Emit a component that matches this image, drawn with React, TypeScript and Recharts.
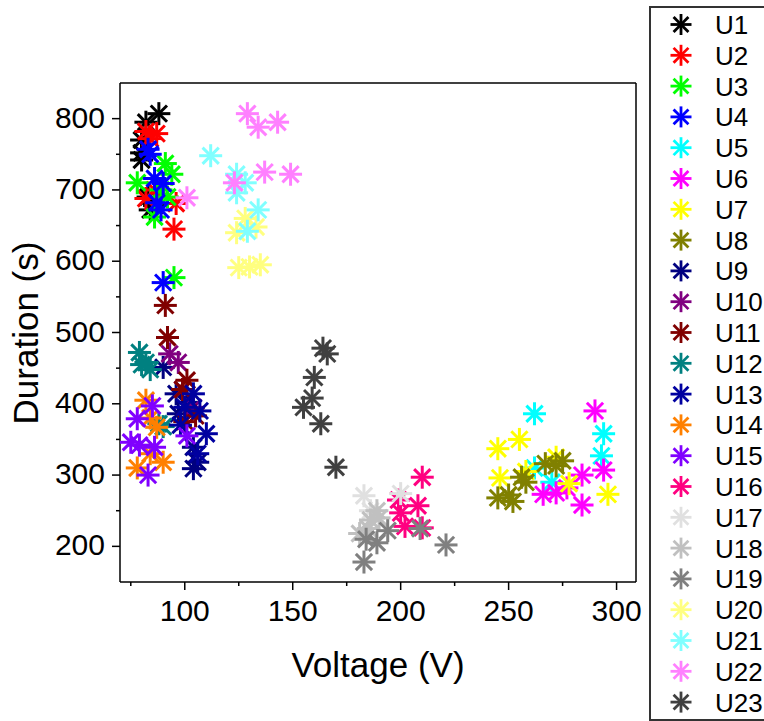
import { ScatterChart, Scatter, XAxis, YAxis, ReferenceLine } from 'recharts'

// [voltage, duration] pairs
const U1: [number, number][] = [[88, 807], [82, 795], [80, 770], [80, 752], [80, 742], [83, 690], [84, 672], [86, 678]]
const U2: [number, number][] = [[82, 782], [87, 779], [84, 772], [82, 688], [96, 681], [95, 645], [86, 700]]
const U3: [number, number][] = [[91, 737], [78, 710], [94, 722], [89, 700], [86, 662], [95, 577], [92, 690]]
const U4: [number, number][] = [[83, 757], [84, 750], [86, 716], [90, 709], [87, 682], [89, 672], [90, 570]]
const U5: [number, number][] = [[262, 386], [294, 358], [293, 327], [262, 310], [270, 290]]
const U6: [number, number][] = [[290, 390], [266, 273], [272, 275], [284, 258], [284, 300], [294, 307], [277, 282]]
const U7: [number, number][] = [[245, 337], [255, 350], [246, 296], [272, 325], [278, 288], [296, 273], [258, 305]]
const U8: [number, number][] = [[245, 268], [250, 272], [252, 263], [256, 297], [258, 290], [267, 316], [275, 320], [272, 313]]
const U9: [number, number][] = [[90, 451], [96, 414], [101, 402], [97, 386], [104, 339], [104, 309], [106, 318]]
const U10: [number, number][] = [[97, 458], [93, 470], [99, 420], [104, 395]]
const U11: [number, number][] = [[91, 538], [92, 493], [101, 433], [99, 420], [105, 383], [100, 375]]
const U12: [number, number][] = [[79, 472], [82, 458], [84, 448], [80, 455], [90, 368], [88, 372]]
const U13: [number, number][] = [[104, 414], [107, 390], [110, 358], [100, 395], [98, 370], [106, 330]]
const U14: [number, number][] = [[82, 405], [87, 367], [84, 380], [78, 310], [90, 318], [84, 330]]
const U15: [number, number][] = [[85, 397], [78, 379], [75, 346], [79, 342], [86, 339], [83, 300], [101, 355]]
const U16: [number, number][] = [[210, 297], [208, 257], [200, 247], [199, 265], [210, 226], [202, 228]]
const U17: [number, number][] = [[183, 271], [200, 274], [186, 250]]
const U18: [number, number][] = [[189, 250], [186, 237], [181, 218], [190, 240], [185, 225]]
const U19: [number, number][] = [[194, 222], [189, 205], [183, 178], [209, 225], [221, 202], [184, 210]]
const U20: [number, number][] = [[124, 640], [133, 648], [125, 591], [135, 595], [130, 592], [128, 660]]
const U21: [number, number][] = [[112, 748], [124, 722], [124, 696], [134, 672], [129, 642], [128, 710]]
const U22: [number, number][] = [[129, 807], [134, 788], [143, 795], [137, 725], [149, 722], [123, 710], [101, 689]]
const U23: [number, number][] = [[164, 478], [166, 470], [160, 437], [159, 408], [155, 395], [163, 372], [170, 311]]

const NAMES = ['U1', 'U2', 'U3', 'U4', 'U5', 'U6', 'U7', 'U8', 'U9', 'U10', 'U11', 'U12', 'U13', 'U14', 'U15', 'U16', 'U17', 'U18', 'U19', 'U20', 'U21', 'U22', 'U23']
const POINTS = [U1, U2, U3, U4, U5, U6, U7, U8, U9, U10, U11, U12, U13, U14, U15, U16, U17, U18, U19, U20, U21, U22, U23]
const COLORS = [
  '#000000', '#FF0000', '#00FF00', '#0000FF', '#00FFFF', '#FF00FF', '#FFFF00', '#808000',
  '#000080', '#800080', '#800000', '#008080', '#0000A0', '#FF8000', '#8000FF', '#FF0080',
  '#E0E0E0', '#C0C0C0', '#808080', '#FFFF80', '#80FFFF', '#FF80FF', '#404040',
]

const X_TICKS = [75, 100, 125, 150, 175, 200, 225, 250, 275, 300]
const Y_TICKS = [200, 250, 300, 350, 400, 450, 500, 550, 600, 650, 700, 750, 800]

const FONT = '"Liberation Sans", Arial, sans-serif'

function Star({ cx, cy, color, r = 11.5, w = 3 }: { cx: number; cy: number; color: string; r?: number; w?: number }) {
  const d = r * Math.SQRT1_2
  return (
    <g stroke={color} strokeWidth={w}>
      <line x1={cx - r} y1={cy} x2={cx + r} y2={cy} />
      <line x1={cx} y1={cy - r} x2={cx} y2={cy + r} />
      <line x1={cx - d} y1={cy - d} x2={cx + d} y2={cy + d} />
      <line x1={cx - d} y1={cy + d} x2={cx + d} y2={cy - d} />
    </g>
  )
}

function XTick({ x, y, payload }: any) {
  const major = payload.value % 50 === 0
  return (
    <g>
      <line x1={x} y1={y} x2={x} y2={y + (major ? 8 : 4)} stroke="#000" strokeWidth={1.5} />
      {major && (
        <text x={x} y={y + 38.5} textAnchor="middle" fontSize={30} fontFamily={FONT} fill="#000">
          {payload.value}
        </text>
      )}
    </g>
  )
}

function YTick({ x, y, payload }: any) {
  const major = payload.value % 100 === 0
  return (
    <g>
      <line x1={x} y1={y} x2={x - (major ? 8 : 4)} y2={y} stroke="#000" strokeWidth={1.5} />
      {major && (
        <text x={x - 15} y={y + 9} textAnchor="end" fontSize={30} fontFamily={FONT} fill="#000">
          {payload.value}
        </text>
      )}
    </g>
  )
}

export default function App() {
  return (
    <div style={{ position: 'absolute', left: 0, top: 0, width: 764, height: 721, background: '#fff' }}>
      <ScatterChart width={764} height={721} margin={{ top: 83, right: 128, bottom: 0, left: 0 }}>
        <XAxis
          type="number"
          dataKey="x"
          domain={[70, 309]}
          ticks={X_TICKS}
          allowDataOverflow
          height={139}
          tickSize={0}
          tickMargin={0}
          tickLine={false}
          tick={<XTick />}
          axisLine={{ stroke: '#000', strokeWidth: 1.5 }}
          interval={0}
        />
        <YAxis
          type="number"
          dataKey="y"
          domain={[150, 850]}
          ticks={Y_TICKS}
          allowDataOverflow
          width={120}
          tickSize={0}
          tickMargin={0}
          tickLine={false}
          tick={<YTick />}
          axisLine={{ stroke: '#000', strokeWidth: 1.5 }}
          interval={0}
        />
        <ReferenceLine y={850} stroke="#000" strokeWidth={1.5} />
        <ReferenceLine x={309} stroke="#000" strokeWidth={1.5} />
        {NAMES.map((name, i) => (
          <Scatter
            key={name}
            name={name}
            data={POINTS[i].map(([x, y]) => ({ x, y }))}
            fill={COLORS[i]}
            isAnimationActive={false}
            shape={(p: any) => <Star cx={p.cx} cy={p.cy} color={COLORS[i]} />}
          />
        ))}
      </ScatterChart>

      <svg width={764} height={721} style={{ position: 'absolute', left: 0, top: 0, pointerEvents: 'none' }}>
        <text x={378} y={677} textAnchor="middle" fontSize={35} fontFamily={FONT} fill="#000">
          Voltage (V)
        </text>
        <text
          x={38}
          y={333}
          textAnchor="middle"
          fontSize={35}
          fontFamily={FONT}
          fill="#000"
          transform="rotate(-90 38 333)"
        >
          Duration (s)
        </text>
      </svg>

      <div
        style={{
          position: 'absolute',
          left: 649,
          top: 6,
          width: 130,
          height: 711,
          border: '2px solid #333',
          background: '#fff',
        }}
      >
        <svg width={130} height={711}>
          {NAMES.map((name, i) => {
            const cy = 16.5 + i * 30.8
            return (
              <g key={name}>
                <Star cx={30} cy={cy} color={COLORS[i]} r={10.5} w={2.8} />
                <text x={64} y={cy + 9.5} fontSize={26} fontFamily={FONT} fill="#000">
                  {name}
                </text>
              </g>
            )
          })}
        </svg>
      </div>
    </div>
  )
}
